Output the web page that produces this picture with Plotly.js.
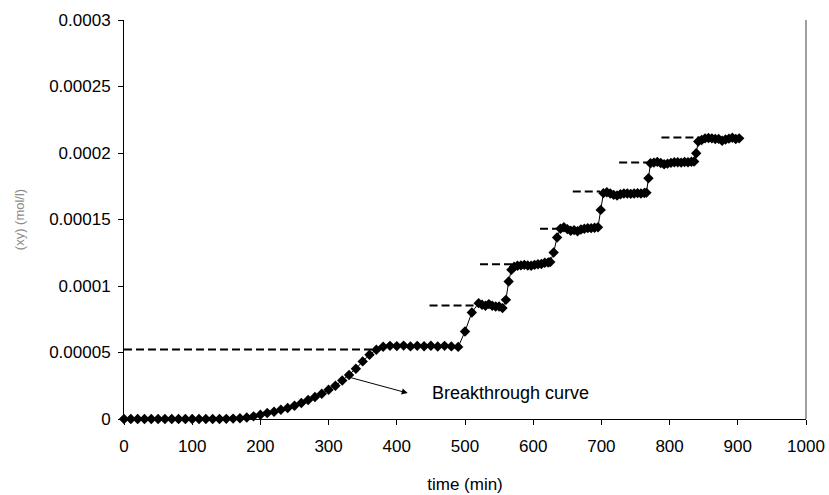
<!DOCTYPE html>
<html>
<head>
<meta charset="utf-8">
<script src="https://cdn.plot.ly/plotly-3.0.1.min.js"></script>
<style>html,body{margin:0;padding:0;background:#fff;}#chart{width:829px;height:495px;}</style>
</head>
<body>
<div id="chart"></div>
<script>
// time (min)
const timeMin = [
  0,10,20,30,40,50,60,70,80,90,100,110,120,130,140,150,160,170,180,190,
  200,210,220,230,240,250,260,270,280,290,300,310,320,330,340,350,360,370,380,390,
  400,410,420,430,440,450,460,470,480,490,500,510,
  520,525,530,535,540,545,550,555,560,564,568,572,577,582,587,592,597,602,607,612,617,622,625,630,635,
  640,645,650,655,660,665,670,675,680,685,690,695,699,703,708,713,718,723,728,733,738,743,748,753,758,763,766,769,772,
  777,782,787,792,797,802,807,812,817,822,827,832,836,839,842,847,852,857,862,867,872,877,882,887,892,897,902
];
// concentration (mol/l)
const conc = [
  0,0,0,0,0,0,0,0,0,0,0,0,0,0,0,1e-7,3e-7,6e-7,1.1e-6,2.0e-6,
  3.2e-6,4.5e-6,5.5e-6,7.0e-6,8.3e-6,1.00e-5,1.20e-5,1.43e-5,1.65e-5,1.90e-5,2.20e-5,2.50e-5,2.90e-5,3.31e-5,3.78e-5,4.33e-5,4.83e-5,5.21e-5,5.43e-5,5.50e-5,
  5.48e-5,5.52e-5,5.46e-5,5.50e-5,5.47e-5,5.51e-5,5.45e-5,5.50e-5,5.46e-5,5.42e-5,6.58e-5,8.01e-5,
  8.71e-5,8.59e-5,8.51e-5,8.64e-5,8.51e-5,8.46e-5,8.46e-5,8.34e-5,8.96e-5,1.034e-4,1.122e-4,1.145e-4,1.152e-4,1.155e-4,1.159e-4,1.154e-4,1.152e-4,1.159e-4,1.163e-4,1.165e-4,1.175e-4,1.177e-4,1.180e-4,1.252e-4,1.365e-4,
  1.430e-4,1.442e-4,1.428e-4,1.415e-4,1.420e-4,1.412e-4,1.425e-4,1.430e-4,1.435e-4,1.435e-4,1.438e-4,1.442e-4,1.572e-4,1.698e-4,1.705e-4,1.695e-4,1.685e-4,1.680e-4,1.690e-4,1.695e-4,1.695e-4,1.693e-4,1.696e-4,1.698e-4,1.696e-4,1.699e-4,1.702e-4,1.810e-4,1.923e-4,
  1.928e-4,1.933e-4,1.925e-4,1.915e-4,1.920e-4,1.926e-4,1.930e-4,1.930e-4,1.928e-4,1.932e-4,1.930e-4,1.934e-4,1.936e-4,1.998e-4,2.086e-4,2.098e-4,2.110e-4,2.113e-4,2.110e-4,2.105e-4,2.106e-4,2.092e-4,2.102e-4,2.108e-4,2.115e-4,2.105e-4,2.110e-4
];
// dashed reference levels
const dashStart = [0, 448, 522, 610, 658, 726, 788];
const dashEnd   = [370, 515, 575, 645, 698, 768, 845];
const dashLevel = [5.23e-5, 8.53e-5, 1.163e-4, 1.430e-4, 1.710e-4, 1.928e-4, 2.116e-4];

const xTicks = [0,100,200,300,400,500,600,700,800,900,1000];
const yTicks = [0,0.00005,0.0001,0.00015,0.0002,0.00025,0.0003];
const yTickText = ['0','0.00005','0.0001','0.00015','0.0002','0.00025','0.0003'];

const FONT = 'Arial, "Liberation Sans", sans-serif';

const traces = [];
for (let i = 0; i < dashStart.length; i++) {
  traces.push({
    x: [dashStart[i], dashEnd[i]],
    y: [dashLevel[i], dashLevel[i]],
    mode: 'lines',
    line: {color: '#000', width: 2, dash: '8px,4px'},
    hoverinfo: 'skip',
    showlegend: false
  });
}
traces.push({
  x: timeMin,
  y: conc,
  mode: 'lines+markers',
  line: {color: '#000', width: 1},
  marker: {symbol: 'diamond', size: 8, color: '#000'},
  cliponaxis: false,
  showlegend: false
});

const layout = {
  width: 829, height: 495,
  margin: {l: 124, r: 23, t: 20, b: 76},
  paper_bgcolor: '#fff', plot_bgcolor: '#fff',
  font: {family: FONT, size: 17, color: '#000'},
  showlegend: false,
  xaxis: {
    range: [0, 1000], tickvals: xTicks, ticktext: xTicks.map(String),
    showgrid: false, zeroline: false, showline: true, linecolor: '#000', linewidth: 1,
    ticks: 'outside', ticklen: 5, tickcolor: '#000', tickwidth: 1, ticklabelstandoff: 7,
    tickfont: {family: FONT, size: 17, color: '#000'},
    title: {text: 'time (min)', font: {family: FONT, size: 17, color: '#000'}, standoff: 22}
  },
  yaxis: {
    range: [0, 0.0003], tickvals: yTicks, ticktext: yTickText,
    showgrid: false, zeroline: false, showline: true, linecolor: '#000', linewidth: 1,
    ticks: 'outside', ticklen: 5, tickcolor: '#000', tickwidth: 1, ticklabelstandoff: 4,
    tickfont: {family: FONT, size: 17, color: '#000'},
    title: {text: '(xy) (mol/l)', font: {family: FONT, size: 13, color: '#8c8c8c'}, standoff: 21}
  },
  shapes: [
    {type: 'line', xref: 'paper', yref: 'paper', x0: 1, x1: 1, y0: 0, y1: 1, line: {color: '#808080', width: 1.5}}
  ],
  annotations: [
    {x: 416, y: 1.95e-5, ax: 331, ay: 3.13e-5, xref: 'x', yref: 'y', axref: 'x', ayref: 'y',
     text: '', showarrow: true, arrowhead: 2, arrowsize: 1.2, arrowwidth: 1, arrowcolor: '#000', standoff: 0, startstandoff: 0},
    {x: 448, y: 1.98e-5, xref: 'x', yref: 'y', text: 'Breakthrough curve', showarrow: false,
     xanchor: 'left', yanchor: 'middle', font: {family: FONT, size: 18, color: '#000'}}
  ]
};

Plotly.newPlot('chart', traces, layout, {staticPlot: true, displayModeBar: false});
</script>
</body>
</html>
